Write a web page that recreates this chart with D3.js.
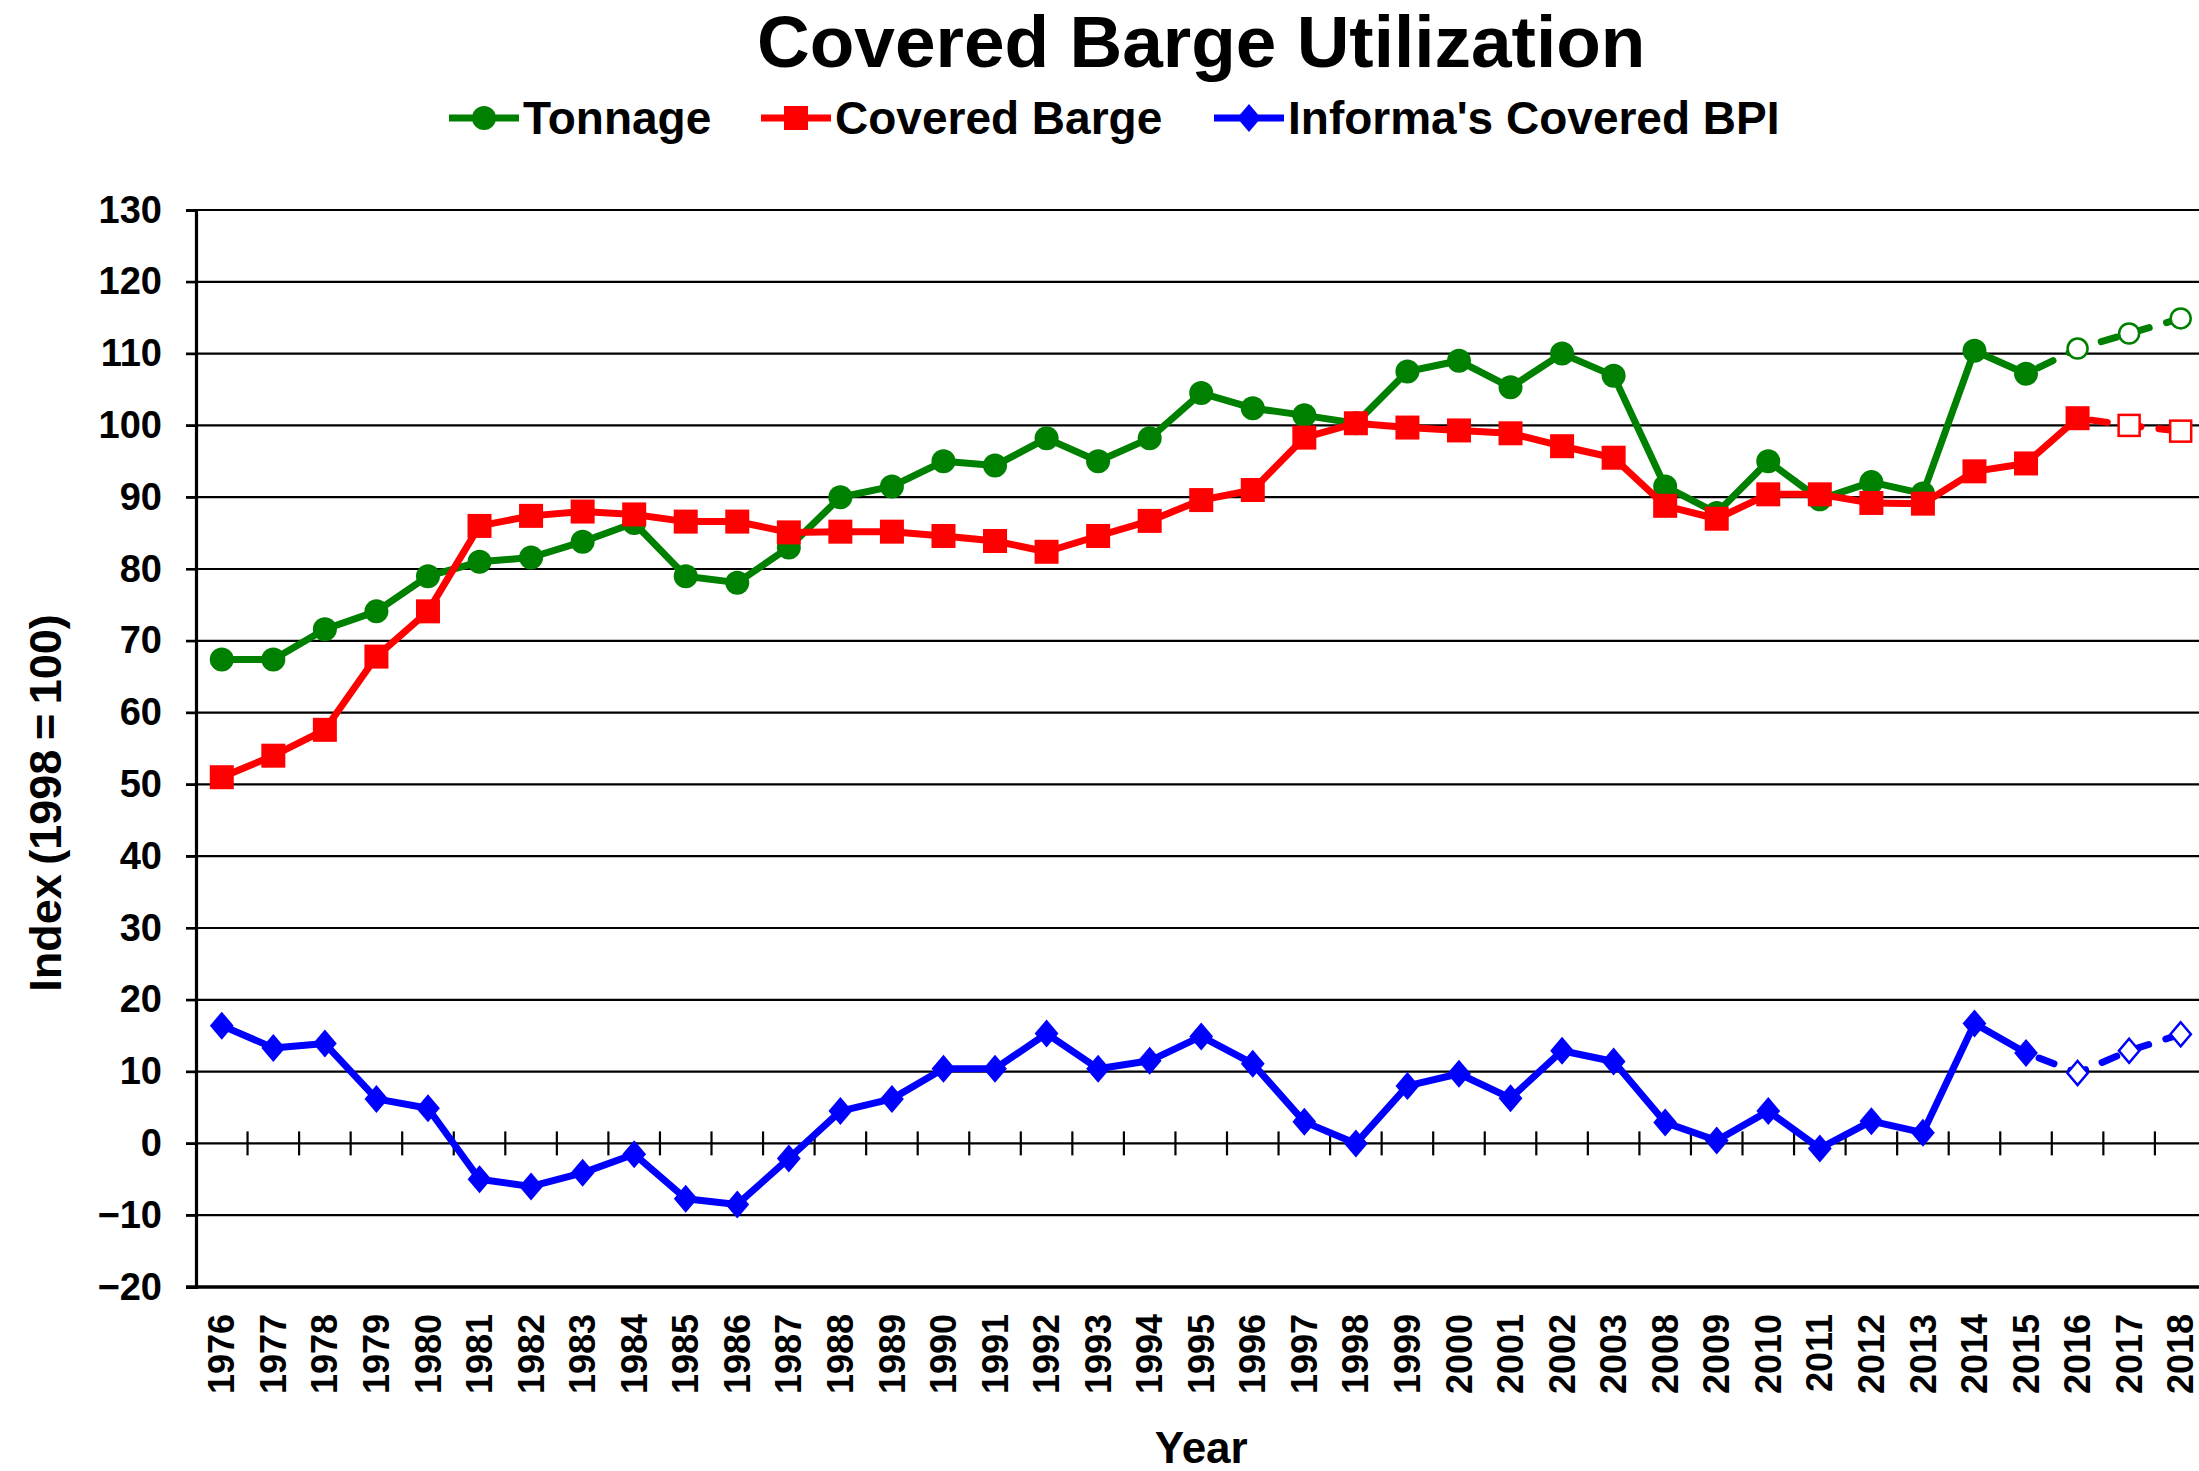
<!DOCTYPE html>
<html>
<head>
<meta charset="utf-8">
<script src="https://cdn.jsdelivr.net/npm/d3@7"></script>
<style>
  html, body { margin: 0; padding: 0; background: #fff; }
  svg { display: block; font-family: "Liberation Sans", Arial, sans-serif; font-weight: bold; }
</style>
</head>
<body>
<svg id="chart" width="2199" height="1471"></svg>
<script>
// ---------------- data ----------------
const categories = ["1976","1977","1978","1979","1980","1981","1982","1983","1984","1985","1986","1987",
  "1988","1989","1990","1991","1992","1993","1994","1995","1996","1997","1998","1999",
  "2000","2001","2002","2003","2008","2009","2010","2011","2012","2013","2014","2015","2016","2017","2018"];

const tonnage = [67.4,67.4,71.6,74.1,79.0,81.0,81.6,83.8,86.4,79.0,78.1,83.0,
  90.0,91.5,95.0,94.4,98.2,95.0,98.2,104.5,102.4,101.4,100.3,107.5,
  109.0,105.3,110.0,106.9,91.5,87.8,95.0,89.7,92.1,90.5,110.4,107.2,110.7,112.8,114.9];

const coveredBarge = [51.0,54.0,57.6,67.8,74.1,86.0,87.4,88.0,87.6,86.6,86.6,85.1,
  85.2,85.2,84.6,83.9,82.4,84.6,86.7,89.6,91.0,98.3,100.3,99.7,
  99.3,98.9,97.1,95.5,88.8,87.0,90.4,90.4,89.2,89.1,93.6,94.7,101.0,100.0,99.2];

const coveredBPI = [16.4,13.3,13.9,6.2,4.9,-5.0,-6.0,-4.1,-1.5,-7.7,-8.5,-2.1,
  4.5,6.2,10.4,10.4,15.3,10.4,11.5,14.9,11.1,3.0,0.0,8.0,
  9.7,6.3,12.9,11.4,2.9,0.4,4.5,-0.7,3.1,1.5,16.7,12.6,9.8,12.9,15.2];

// last actual (non-projected) year of each series
const lastActual = { tonnage: "2015", coveredBarge: "2016", coveredBPI: "2015" };

const seriesNames = ["Tonnage", "Covered Barge", "Informa's Covered BPI"];
const yTicks = [-20,-10,0,10,20,30,40,50,60,70,80,90,100,110,120,130];

(function () {
// ---------------- layout ----------------
const svg = d3.select("#chart");
const W = 2199, H = 1471;
const mLeft = 196, mTop = 210, mBottom = 1287;
const bandW = 51.55;
const mRight = mLeft + categories.length * bandW;

svg.append("rect").attr("width", W).attr("height", H).attr("fill", "#fff");

const x = d3.scaleBand().domain(categories).range([mLeft, mRight]).padding(0);
const xc = c => x(c) + x.bandwidth() / 2;
const y = d3.scaleLinear().domain([-20, 130]).range([mBottom, mTop]);

// gridlines
const grid = svg.append("g");
grid.selectAll("line").data(yTicks.filter(t => t !== -20)).join("line")
  .attr("x1", mLeft - 10).attr("x2", mRight)
  .attr("y1", d => y(d)).attr("y2", d => y(d))
  .attr("stroke", "#000").attr("stroke-width", 2.2);

// y axis
const yAxis = svg.append("g").attr("transform", `translate(${mLeft},0)`)
  .call(d3.axisLeft(y).tickValues(yTicks).tickSize(10).tickPadding(24));
yAxis.select(".domain").attr("stroke-width", 3.2);
yAxis.selectAll(".tick line").attr("stroke-width", 2.2);
yAxis.selectAll("text").attr("font-size", 38).attr("font-weight", "bold")
  .attr("font-family", "'Liberation Sans', Arial, sans-serif").attr("fill", "#000");

// x axis at bottom (-20 line)
const xAxis = svg.append("g").attr("transform", `translate(0,${mBottom})`)
  .call(d3.axisBottom(x).tickSize(0).tickPadding(0));
xAxis.select(".domain").attr("stroke-width", 3.5).attr("d", `M${mLeft - 10},0H${mRight}`);
xAxis.selectAll(".tick text")
  .attr("font-size", 36).attr("font-weight", "bold")
  .attr("font-family", "'Liberation Sans', Arial, sans-serif").attr("fill", "#000")
  .attr("text-anchor", "end").attr("dy", "0.35em")
  .attr("transform", "translate(0,27) rotate(-90)")
  .attr("x", 0).attr("y", 0);

// category separator ticks on the zero line
svg.append("g").selectAll("line").data(categories.slice(1)).join("line")
  .attr("x1", d => x(d)).attr("x2", d => x(d))
  .attr("y1", y(0) - 12).attr("y2", y(0) + 12)
  .attr("stroke", "#000").attr("stroke-width", 2.2);

// titles
svg.append("text").attr("x", (mLeft + mRight) / 2).attr("y", 67)
  .attr("text-anchor", "middle").attr("font-size", 73).text("Covered Barge Utilization");
svg.append("text").attr("x", (mLeft + mRight) / 2).attr("y", 1463)
  .attr("text-anchor", "middle").attr("font-size", 44).text("Year");
svg.append("text").attr("transform", "translate(61,803) rotate(-90)")
  .attr("text-anchor", "middle").attr("font-size", 45).attr("word-spacing", -3)
  .text("Index (1998 = 100)");

// ---------------- series ----------------
const symbols = {
  circle: (g, cx, cy, color, open) => g.append("circle").attr("cx", cx).attr("cy", cy)
      .attr("r", open ? 10 : 12).attr("fill", open ? "#fff" : color)
      .attr("stroke", color).attr("stroke-width", open ? 2.5 : 0),
  square: (g, cx, cy, color, open) => {
      const s = open ? 21 : 24;
      return g.append("rect").attr("x", cx - s / 2).attr("y", cy - s / 2).attr("width", s).attr("height", s)
        .attr("fill", open ? "#fff" : color).attr("stroke", color).attr("stroke-width", open ? 2.5 : 0);
  },
  diamond: (g, cx, cy, color, open) => {
      const r = open ? 12 : 14;
      return g.append("path").attr("d", `M${cx},${cy - r}L${cx + r * 0.85},${cy}L${cx},${cy + r}L${cx - r * 0.85},${cy}Z`)
        .attr("fill", open ? "#fff" : color).attr("stroke", color).attr("stroke-width", open ? 2.5 : 0);
  }
};

const series = [
  { values: tonnage, color: "#008000", symbol: "circle", last: lastActual.tonnage },
  { values: coveredBarge, color: "#FF0000", symbol: "square", last: lastActual.coveredBarge },
  { values: coveredBPI, color: "#0000FF", symbol: "diamond", last: lastActual.coveredBPI }
];

const line = d3.line().x(d => xc(d.c)).y(d => y(d.v));

series.forEach(s => {
  const pts = categories.map((c, i) => ({ c, v: s.values[i] }));
  const li = categories.indexOf(s.last);
  const actual = pts.slice(0, li + 1);
  const proj = pts.slice(li);
  const g = svg.append("g");
  g.append("path").attr("d", line(actual)).attr("fill", "none")
    .attr("stroke", s.color).attr("stroke-width", 7).attr("stroke-linejoin", "round");
  g.append("path").attr("d", line(proj)).attr("fill", "none")
    .attr("stroke", s.color).attr("stroke-width", 7).attr("stroke-linecap", "round")
    .attr("stroke-dasharray", "16,18").attr("stroke-dashoffset", -14);
  pts.forEach((p, i) => symbols[s.symbol](g, xc(p.c), y(p.v), s.color, i > li));
});

// ---------------- legend ----------------
const legendY = 118;
const legendStarts = [449, 761, 1214];
const lg = svg.append("g");
series.forEach((s, i) => {
  const x0 = legendStarts[i];
  lg.append("line").attr("x1", x0).attr("x2", x0 + 70).attr("y1", legendY).attr("y2", legendY)
    .attr("stroke", s.color).attr("stroke-width", 7);
  symbols[s.symbol](lg, x0 + 35, legendY, s.color, false);
  lg.append("text").attr("x", x0 + 74).attr("y", legendY).attr("dy", "0.35em")
    .attr("font-size", 46).text(seriesNames[i]);
});
})();
</script>
</body>
</html>
